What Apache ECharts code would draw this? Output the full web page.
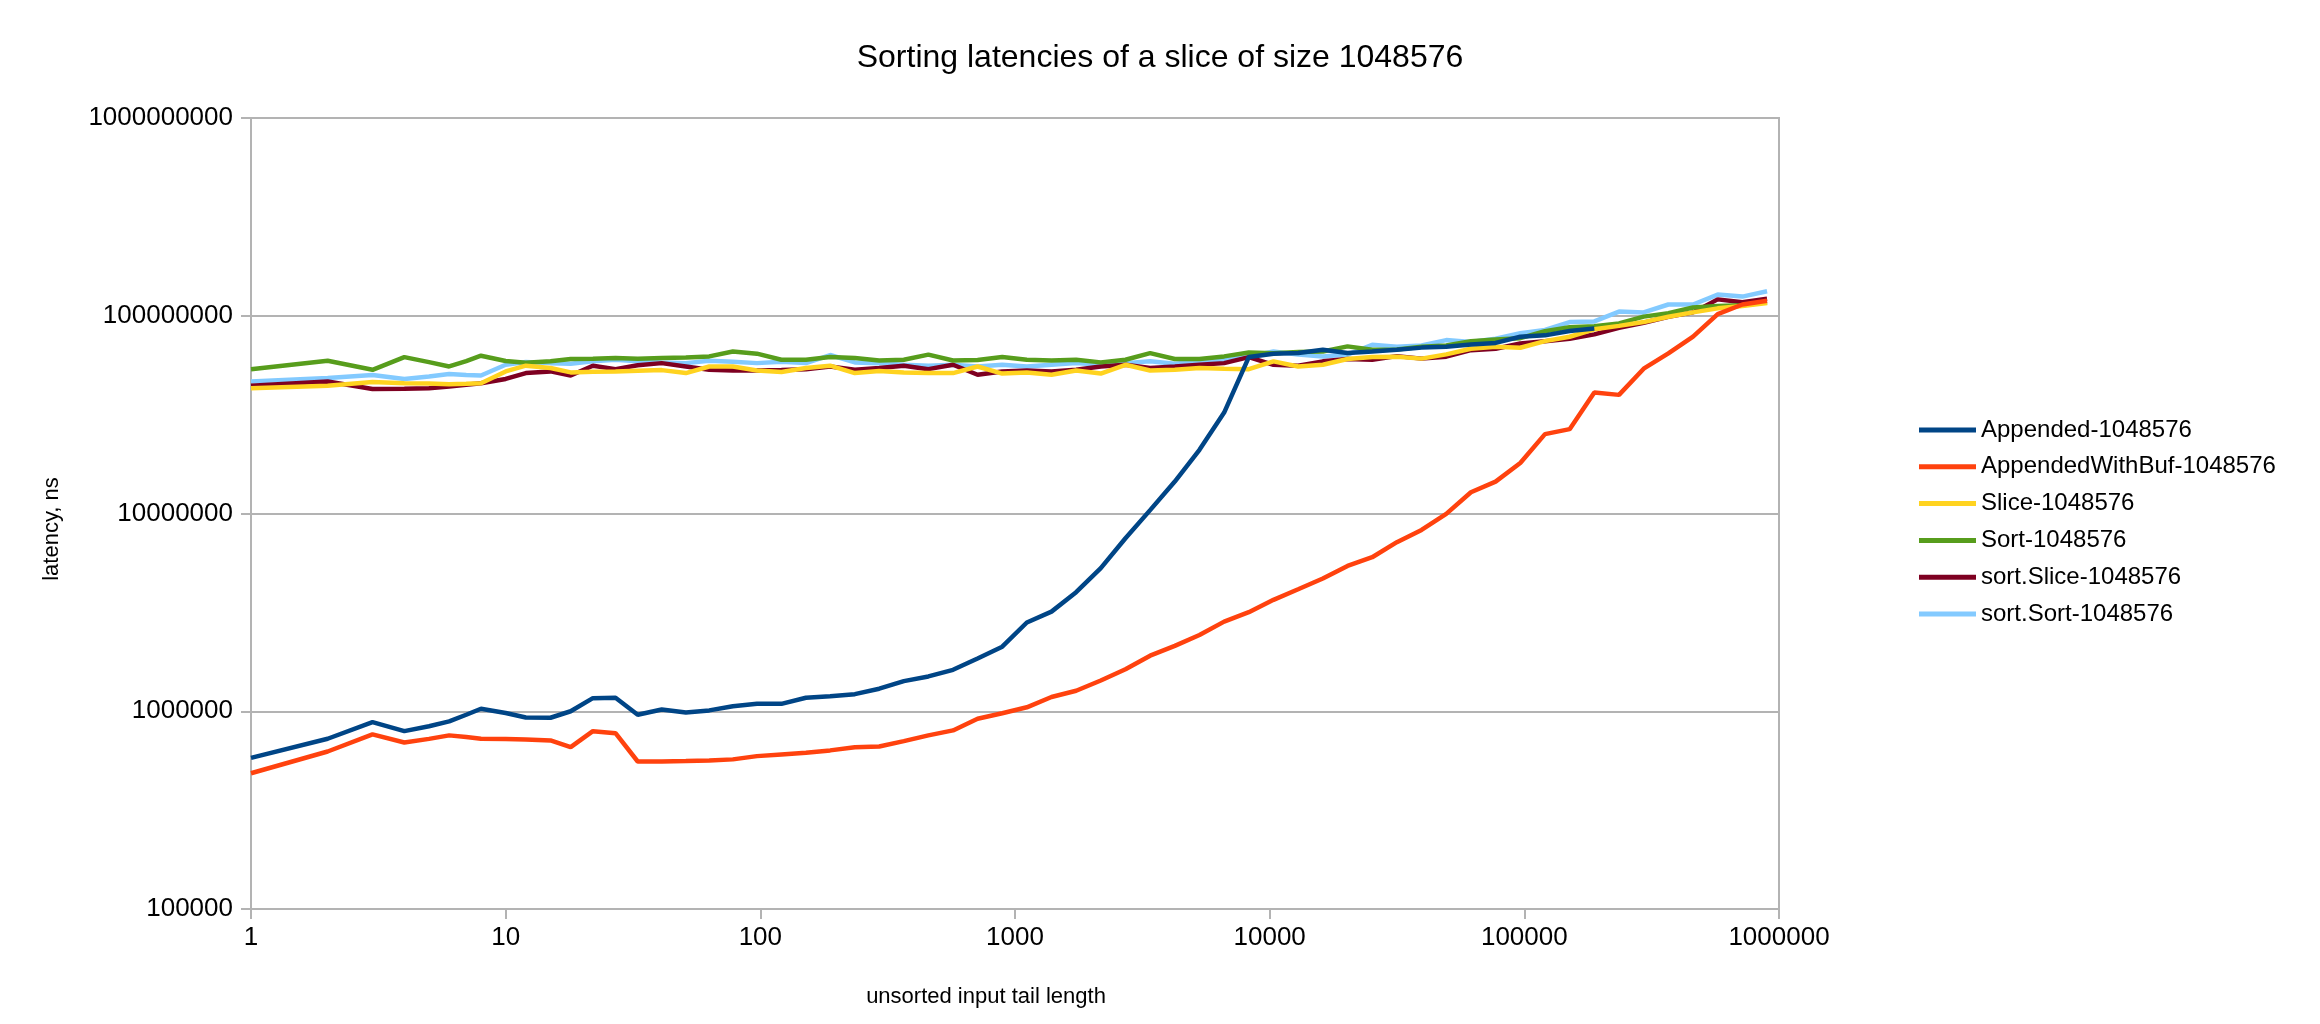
<!DOCTYPE html>
<html>
<head>
<meta charset="utf-8">
<title>Sorting latencies</title>
<script src="https://cdn.jsdelivr.net/npm/echarts@6/dist/echarts.min.js"></script>
<style>
  html, body { margin: 0; padding: 0; background: #fff; }
  #chart { width: 2320px; height: 1024px; }
</style>
</head>
<body>
<div id="chart"></div>
<script>
// unsorted tail lengths (x)
var tailLengths = [1, 2, 3, 4, 5, 6, 7, 8, 10, 12, 15, 18, 22, 27, 33, 41, 51, 63, 78, 97,
  121, 151, 188, 235, 293, 366, 457, 571, 713, 891, 1113, 1391, 1738, 2172, 2715, 3393,
  4241, 5301, 6626, 8282, 10352, 12940, 16175, 20218, 25272, 31590, 39487, 49358, 61697,
  77121, 96401, 120501, 150626, 188282, 235352, 294190, 367737, 459671, 574588, 718235, 897793];

// latencies, ns
var appended = [581000, 726000, 881000, 793000, 840000, 889000, 960000, 1030000, 980000, 930000,
  927000, 1000000, 1165000, 1170000, 960000, 1020000, 985000, 1010000, 1060000, 1090000,
  1090000, 1170000, 1190000, 1220000, 1300000, 1420000, 1500000, 1620000, 1850000, 2120000,
  2810000, 3190000, 4000000, 5290000, 7500000, 10400000, 14500000, 21000000, 32400000, 61800000,
  64300000, 64800000, 67300000, 64800000, 66000000, 67300000, 69000000, 69700000, 71600000,
  72900000, 78300000, 79600000, 83700000, 86100000];

var appendedWithBuf = [486000, 626000, 764000, 695000, 725000, 755000, 740000, 726000, 724000, 720000,
  712000, 658000, 793000, 775000, 557000, 557000, 560000, 564000, 571000, 593000,
  605000, 617000, 634000, 658000, 663000, 706000, 755000, 800000, 916000, 977000,
  1047000, 1180000, 1270000, 1430000, 1630000, 1910000, 2140000, 2430000, 2840000, 3170000,
  3660000, 4140000, 4690000, 5430000, 6010000, 7160000, 8260000, 9950000, 12800000,
  14500000, 18000000, 25200000, 26700000, 40900000, 39800000, 54000000, 64500000, 78500000,
  102000000, 114000000, 119000000];

var slice = [43000000, 44300000, 46200000, 45600000, 45400000, 45100000, 45300000, 45600000, 52300000, 55900000,
  54400000, 51700000, 52100000, 52300000, 52700000, 53100000, 51300000, 55400000, 55400000, 52900000,
  51900000, 54400000, 55900000, 51300000, 52500000, 51700000, 51300000, 51300000, 55400000, 51000000,
  51700000, 50300000, 52900000, 51000000, 56500000, 52900000, 53300000, 54400000, 54000000, 53700000,
  58800000, 55400000, 56500000, 60400000, 61800000, 62100000, 60700000, 63800000, 68100000,
  69700000, 68900000, 74400000, 78300000, 85400000, 88900000, 92900000, 98900000, 104000000,
  109000000, 112000000, 116000000];

var sortFn = [53700000, 59200000, 53300000, 61800000, 58300000, 55400000, 59000000, 62800000, 59000000, 57900000,
  58800000, 60400000, 60600000, 61100000, 60600000, 61100000, 61500000, 62300000, 66000000, 64300000,
  59900000, 59900000, 61800000, 61100000, 59400000, 59900000, 63600000, 59400000, 59700000, 61800000,
  59900000, 59400000, 59900000, 58100000, 59900000, 64700000, 60400000, 60400000, 62300000, 65200000,
  64700000, 65500000, 66000000, 70000000, 67300000, 67500000, 69700000, 70800000, 74400000,
  75800000, 77000000, 83500000, 87500000, 88500000, 91500000, 99000000, 103000000, 110000000,
  112000000, 113000000, 117000000];

var sortSlice = [44300000, 46500000, 42600000, 42800000, 43000000, 43900000, 44800000, 45600000, 47900000, 51300000,
  52300000, 49900000, 55900000, 53700000, 56200000, 57600000, 55400000, 53300000, 52900000, 52900000,
  53100000, 53700000, 55400000, 53300000, 54400000, 55900000, 53700000, 56500000, 50300000, 52300000,
  52900000, 52300000, 53300000, 55400000, 56500000, 54400000, 55400000, 56500000, 57600000, 61800000,
  56500000, 55900000, 58800000, 60400000, 59900000, 62500000, 60700000, 62100000, 67000000,
  68100000, 72400000, 74400000, 76500000, 80500000, 87000000, 92200000, 98900000, 104000000,
  121000000, 117000000, 122000000];

var sortSort = [46500000, 48400000, 50100000, 47900000, 49300000, 50700000, 50100000, 49900000, 56500000, 58300000,
  57600000, 57200000, 58800000, 59900000, 58800000, 58100000, 57600000, 59200000, 58600000, 57600000,
  58600000, 57600000, 63300000, 58100000, 57600000, 56500000, 55900000, 56500000, 55400000, 56500000,
  55400000, 56500000, 57600000, 56500000, 57600000, 58800000, 57200000, 58800000, 59900000, 62300000,
  66000000, 63600000, 62300000, 63600000, 71300000, 69700000, 70800000, 75300000, 73600000,
  76500000, 81500000, 84700000, 92900000, 93600000, 105000000, 104000000, 114000000, 114000000,
  128000000, 125000000, 133000000];

var seriesNames = ['Appended-1048576', 'AppendedWithBuf-1048576', 'Slice-1048576',
  'Sort-1048576', 'sort.Slice-1048576', 'sort.Sort-1048576'];
var seriesValues = [appended, appendedWithBuf, slice, sortFn, sortSlice, sortSort];
var colors = ['#004586', '#ff420e', '#ffd320', '#579d1c', '#7e0021', '#83caff'];

var FONT = '"Liberation Sans", Arial, sans-serif';
var GRID_COLOR = '#b3b3b3';

function pairs(values) {
  return values.map(function (v, i) { return [tailLengths[i], v]; });
}

var chart = echarts.init(document.getElementById('chart'));

var series = seriesNames.map(function (name, i) {
  return {
    name: name,
    type: 'line',
    data: pairs(seriesValues[i]),
    showSymbol: false,
    symbol: 'none',
    // first series ends up on top, like the original
    z: 10 - i,
    lineStyle: { width: 4.5, color: colors[i] },
    itemStyle: { color: colors[i] }
  };
});

var option = {
  animation: false,
  backgroundColor: '#fff',
  textStyle: { fontFamily: FONT },
  title: {
    text: 'Sorting latencies of a slice of size 1048576',
    left: 'center',
    top: 37,
    textStyle: { fontFamily: FONT, fontSize: 32, fontWeight: 'normal', color: '#000' }
  },
  grid: {
    left: 251, top: 118, width: 1528, height: 791,
    show: true, borderColor: GRID_COLOR, borderWidth: 2, backgroundColor: 'transparent'
  },
  legend: {
    data: seriesNames,
    orient: 'vertical',
    left: 1914,
    top: 412,
    icon: 'rect',
    itemWidth: 57,
    itemHeight: 5,
    itemGap: 10.8,
    textStyle: { fontFamily: FONT, fontSize: 24, color: '#000', lineHeight: 26 }
  },
  xAxis: {
    type: 'log',
    logBase: 10,
    min: 1,
    max: 1000000,
    splitNumber: 6,
    axisLine: { show: true, lineStyle: { color: GRID_COLOR, width: 2 } },
    axisTick: { show: true, length: 10, lineStyle: { color: GRID_COLOR, width: 2 } },
    splitLine: { show: false },
    minorTick: { show: false },
    axisLabel: {
      fontFamily: FONT, fontSize: 26, color: '#000', margin: 16,
      formatter: function (v) { return String(Math.round(v)); }
    }
  },
  yAxis: {
    type: 'log',
    logBase: 10,
    min: 100000,
    max: 1000000000,
    splitNumber: 4,
    axisLine: { show: true, lineStyle: { color: GRID_COLOR, width: 2 } },
    axisTick: { show: true, length: 10, lineStyle: { color: GRID_COLOR, width: 2 } },
    splitLine: { show: true, lineStyle: { color: GRID_COLOR, width: 2 } },
    axisLabel: {
      fontFamily: FONT, fontSize: 26, color: '#000', margin: 18,
      formatter: function (v) { return String(Math.round(v)); }
    }
  },
  graphic: [
    {
      type: 'text',
      x: 52, y: 529,
      rotation: Math.PI / 2,
      style: {
        text: 'latency, ns', fill: '#000', font: '22px ' + FONT,
        textAlign: 'center', textVerticalAlign: 'middle'
      }
    },
    {
      type: 'text',
      x: 986, y: 997,
      style: {
        text: 'unsorted input tail length', fill: '#000', font: '22px ' + FONT,
        textAlign: 'center', textVerticalAlign: 'middle'
      }
    }
  ],
  series: series
};

chart.setOption(option);
</script>
</body>
</html>
